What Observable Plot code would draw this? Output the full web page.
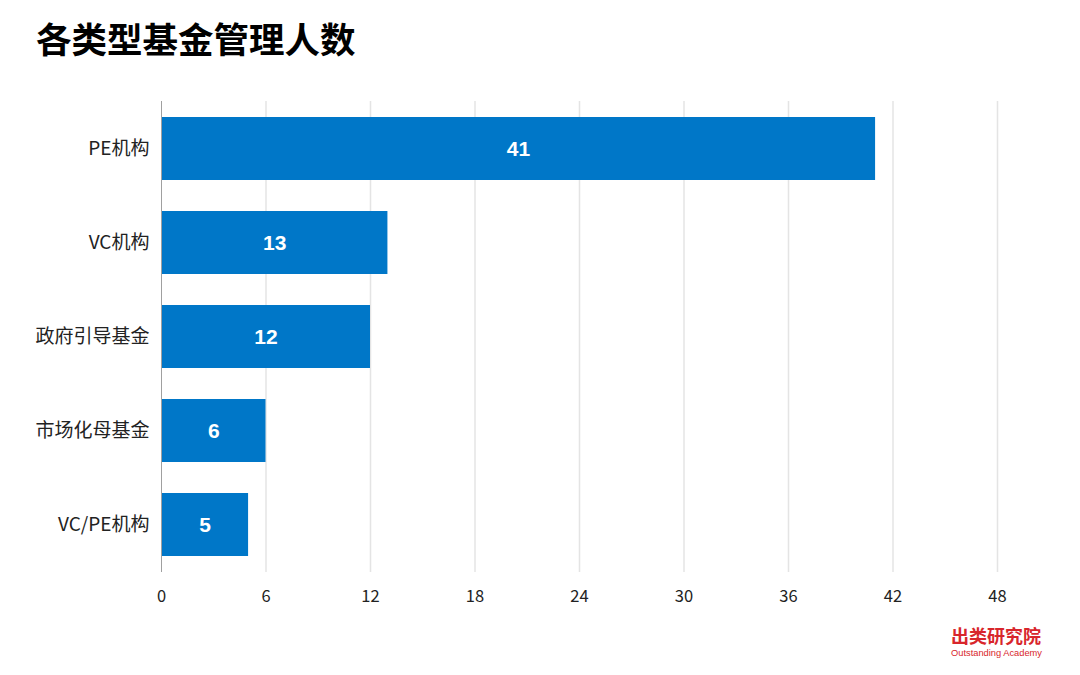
<!DOCTYPE html>
<html>
<head>
<meta charset="utf-8">
<script src="https://cdn.jsdelivr.net/npm/d3@7"></script>
<script src="https://cdn.jsdelivr.net/npm/@observablehq/plot@0.6"></script>
<style>
  html, body { margin: 0; padding: 0; background: #fff; }
  #wrap { position: relative; width: 1080px; height: 675px; overflow: hidden; font-family: "Noto Sans CJK SC", "Noto Sans", sans-serif; }
  #title { position: absolute; left: 36px; top: 12px; font-size: 35.5px; font-weight: 700; color: #000; }
  #chart { position: absolute; left: 0; top: 80px; }
  #logo { position: absolute; left: 951px; top: 625px; color: #d8262c; }
  #logo .cn { font-size: 18px; font-weight: 700; line-height: 21px; }
  #logo .en { font-family: "Liberation Sans", Arial, sans-serif; font-size: 9.3px; line-height: 12px; margin-top: 1px; }
</style>
</head>
<body>
<div id="wrap">
  <div id="title">各类型基金管理人数</div>
  <div id="chart"></div>
  <div id="logo"><div class="cn">出类研究院</div><div class="en">Outstanding Academy</div></div>
</div>
<script>
const categories = ["PE机构", "VC机构", "政府引导基金", "市场化母基金", "VC/PE机构"];
const values = [41, 13, 12, 6, 5];
const xTicks = [0, 6, 12, 18, 24, 30, 36, 42, 48];

const data = categories.map((c, i) => ({category: c, value: values[i]}));

const plot = Plot.plot({
  width: 1080,
  height: 595,
  marginTop: 21,
  marginBottom: 103,
  marginLeft: 161,
  marginRight: 83,
  style: {fontFamily: "'Noto Sans CJK SC', 'Noto Sans', sans-serif", background: "transparent"},
  x: {domain: [0, 48], ticks: xTicks, label: null},
  y: {domain: categories, paddingInner: 0.33, paddingOuter: 0.17, label: null},
  marks: [
    Plot.gridX(xTicks.filter(t => t > 0), {stroke: "#e4e4e4", strokeOpacity: 1, strokeWidth: 1.5}),
    Plot.barX(data, {y: "category", x: "value", fill: "#0077c8"}),
    Plot.ruleX([0], {stroke: "#a0a0a0", strokeWidth: 1}),
    Plot.text(data, {y: "category", x: d => d.value / 2, text: d => String(d.value), fill: "#fff", fontSize: 21, fontWeight: 700, fontFamily: "'Liberation Sans', Arial, sans-serif"}),
    Plot.axisX({ticks: xTicks, tickSize: 0, tickPadding: 18, fontSize: 16.5, fill: "#222", label: null}),
    Plot.axisY({tickSize: 0, tickPadding: 12, fontSize: 19, fill: "#222", label: null})
  ]
});
document.getElementById("chart").appendChild(plot);
</script>
</body>
</html>
